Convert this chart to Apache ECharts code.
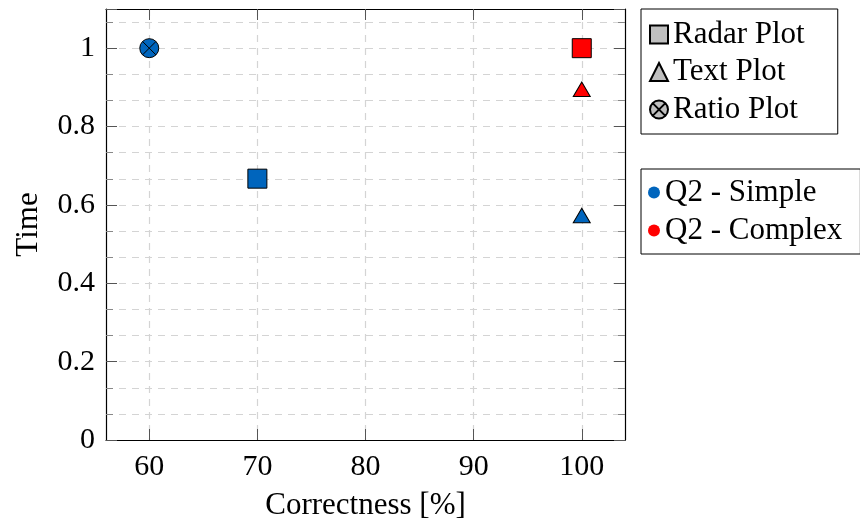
<!DOCTYPE html>
<html>
<head>
<meta charset="utf-8">
<script src="https://cdn.jsdelivr.net/npm/echarts@6/dist/echarts.min.js"></script>
<style>
  html, body { margin: 0; padding: 0; background: #fff; }
  #chart { width: 860px; height: 524px; }
</style>
</head>
<body>
<div id="chart"></div>
<script>
// Visualisation types and groups
const plotTypes = ['Radar Plot', 'Text Plot', 'Ratio Plot'];
const groups = ['Q2 - Simple', 'Q2 - Complex'];

// Q2 - Simple: correctness [%] and time per visualisation type
const simpleCorrectness = [70, 100, 60];
const simpleTime = [0.667, 0.567, 1.0];

// Q2 - Complex (no ratio plot result)
const complexCorrectness = [100, 100];
const complexTime = [1.0, 0.889];

// Axis ticks
const xTicks = [60, 70, 80, 90, 100];

const FONT = 'Liberation Serif';
const BLUE = '#0065bd';
const RED = '#ff0000';
const GREY = '#bfbfbf';

// circle with a cross (otimes)
const OTIMES = 'path://M0,10 A10,10 0 1,1 20,10 A10,10 0 1,1 0,10 Z M2.93,2.93 L17.07,17.07 M17.07,2.93 L2.93,17.07';

// marker shape per visualisation type
const shapes = {
  'Radar Plot': { symbol: 'rect', symbolSize: 19, symbolOffset: [0, 0] },
  'Text Plot': { symbol: 'triangle', symbolSize: [17, 14.5], symbolOffset: [0, -2.4] },
  'Ratio Plot': { symbol: OTIMES, symbolSize: 19, symbolOffset: [0, 0] }
};

function points(xs, ys) {
  return xs.map((x, i) => Object.assign({ value: [x, ys[i]] }, shapes[plotTypes[i]]));
}

const markerBorder = { borderColor: '#000', borderWidth: 1, opacity: 1 };

const series = [
  { name: groups[0], type: 'scatter', data: points(simpleCorrectness, simpleTime),
    itemStyle: Object.assign({ color: BLUE }, markerBorder) },
  { name: groups[1], type: 'scatter', data: points(complexCorrectness, complexTime),
    itemStyle: Object.assign({ color: RED }, markerBorder) }
];
// shape-only entries for the marker legend
plotTypes.forEach(t => series.push({
  name: t, type: 'scatter', data: [],
  itemStyle: Object.assign({ color: GREY }, markerBorder)
}));

const tickColor = '#555';
const gridLine = { color: '#d4d4d4', width: 1.2, type: [7, 6] };
const axisLine = { show: true, onZero: false, lineStyle: { color: '#000', width: 1.2 } };

const yCommon = {
  type: 'value', min: 0, max: 1.1, interval: 0.2,
  axisLine: axisLine,
  axisTick: { show: true, inside: true, length: 11, lineStyle: { color: tickColor, width: 1 } },
  minorTick: { show: true, splitNumber: 3, length: 7, lineStyle: { color: '#888', width: 1 } }
};

const chart = echarts.init(document.getElementById('chart'), null, { renderer: 'canvas' });
chart.setOption({
  animation: false,
  backgroundColor: '#fff',
  textStyle: { fontFamily: FONT, color: '#000' },
  grid: { left: 106, right: 235, top: 9, bottom: 84, containLabel: false, outerBoundsMode: 'none' },
  xAxis: [
    {
      type: 'value', min: 56, max: 104, position: 'bottom',
      name: 'Correctness [%]', nameLocation: 'middle', nameGap: 50,
      nameTextStyle: { fontFamily: FONT, fontSize: 31, color: '#000' },
      axisLine: axisLine,
      axisTick: { show: true, inside: true, length: 11, customValues: xTicks, lineStyle: { color: tickColor, width: 1 } },
      axisLabel: { show: true, customValues: xTicks, margin: 12, fontFamily: FONT, fontSize: 30, color: '#000' },
      splitLine: { show: true, lineStyle: gridLine }
    },
    {
      type: 'value', min: 56, max: 104, position: 'top',
      axisLine: axisLine,
      axisTick: { show: true, inside: true, length: 11, customValues: xTicks, lineStyle: { color: tickColor, width: 1 } },
      axisLabel: { show: false },
      splitLine: { show: false }
    }
  ],
  yAxis: [
    Object.assign({}, yCommon, {
      position: 'left',
      name: 'Time', nameLocation: 'middle', nameGap: 62, nameRotate: 90,
      nameTextStyle: { fontFamily: FONT, fontSize: 31, color: '#000' },
      axisLabel: { show: true, margin: 11, showMaxLabel: false, fontFamily: FONT, fontSize: 30, color: '#000' },
      splitLine: { show: true, lineStyle: gridLine },
      minorSplitLine: { show: true, lineStyle: gridLine }
    }),
    Object.assign({}, yCommon, {
      position: 'right',
      axisLabel: { show: false },
      splitLine: { show: false }
    })
  ],
  legend: [
    {
      orient: 'vertical', left: 641, top: 9,
      padding: [10, 33, 9, 8], itemGap: 6.5,
      itemWidth: 18, itemHeight: 18,
      borderColor: '#000', borderWidth: 1, borderRadius: 0, backgroundColor: '#fff',
      selectedMode: false,
      textStyle: { fontFamily: FONT, fontSize: 31, color: '#000' },
      data: [
        { name: plotTypes[0], icon: 'rect' },
        { name: plotTypes[1], icon: 'triangle' },
        { name: plotTypes[2], icon: OTIMES }
      ]
    },
    {
      orient: 'vertical', left: 641, top: 169,
      padding: [8, 18, 8, 7], itemGap: 7,
      itemWidth: 12, itemHeight: 12,
      borderColor: '#000', borderWidth: 1, borderRadius: 0, backgroundColor: '#fff',
      selectedMode: false,
      textStyle: { fontFamily: FONT, fontSize: 31, color: '#000' },
      data: [
        { name: groups[0], icon: 'circle', itemStyle: { borderWidth: 0 } },
        { name: groups[1], icon: 'circle', itemStyle: { borderWidth: 0 } }
      ]
    }
  ],
  series: series
});
</script>
</body>
</html>
